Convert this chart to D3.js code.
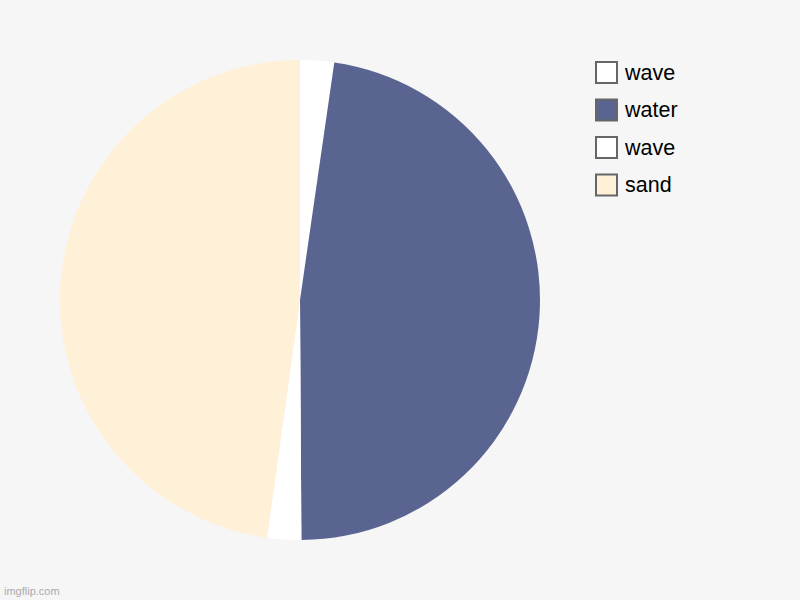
<!DOCTYPE html>
<html><head><meta charset="utf-8">
<script src="https://cdn.jsdelivr.net/npm/d3@7"></script>
<style>html,body{margin:0;padding:0;background:#f6f6f6;}</style>
</head><body>
<svg id="c" width="800" height="600"></svg>
<script>
const labels = ["wave", "water", "wave", "sand"];
const values = [5, 104.3, 5, 104.7];
const colors = ["#ffffff", "#5a6491", "#ffffff", "#fff0d8"];

const svg = d3.select("#c");
svg.append("rect").attr("width", 800).attr("height", 600).attr("fill", "#f6f6f6");

const data = labels.map((l, i) => ({label: l, value: values[i], color: colors[i]}));
const pie = d3.pie().value(d => d.value).sort(null);
const arc = d3.arc().innerRadius(0).outerRadius(240);
const g = svg.append("g").attr("transform", "translate(300,300)");
g.selectAll("path").data(pie(data)).join("path")
  .attr("d", arc).attr("fill", d => d.data.color);

const lg = svg.append("g").attr("transform", "translate(595,61)");
const row = lg.selectAll("g").data(data).join("g")
  .attr("transform", (d, i) => `translate(0,${i * 37.5})`);
row.append("rect").attr("x", 1).attr("y", 1).attr("width", 21).attr("height", 21)
  .attr("fill", d => d.color).attr("stroke", "#666").attr("stroke-width", 2);
row.append("text").attr("x", 30).attr("y", 18.5)
  .attr("font-family", "Liberation Sans, Arial, sans-serif").attr("font-size", 21.5)
  .attr("fill", "#000").text(d => d.label);

svg.append("text").attr("x", 4).attr("y", 595)
  .attr("font-family", "Liberation Sans, Arial, sans-serif").attr("font-size", 11)
  .attr("fill", "#aaa").text("imgflip.com");
</script>
</body></html>
